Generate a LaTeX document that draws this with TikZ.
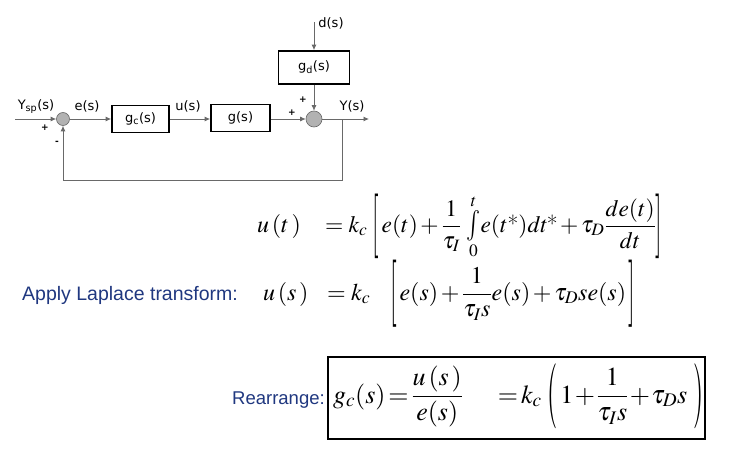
\documentclass[tikz,border=0pt]{standalone}
\usepackage{amsmath}
\usepackage{mathptmx}
\usepackage[no-math]{fontspec}
\setsansfont{Liberation Sans}
\newfontfamily\diagfont{DejaVu Sans}
\usetikzlibrary{arrows.meta}
\definecolor{lblue}{RGB}{32,56,128}
\definecolor{lgray}{RGB}{105,105,105}
\newcommand{\tallint}{\mathop{\vcenter{\hbox{\scalebox{1}[1.3]{$\int$}}}}\limits}
\newcommand{\tdel}[2]{\vcenter{\hbox{\scalebox{1}[#1]{$#2$}}}}
\newcommand{\bu}[1]{u\mkern2mu\mathbf{(}#1\mkern2mu\mathbf{)}}
\medmuskip=2mu plus 1mu minus 2mu
\begin{document}
\begin{tikzpicture}[x=1pt,y=-1pt,
  blk/.style={draw=black, line width=1.8pt, inner sep=0pt, font=\diagfont\fontsize{13}{15}\selectfont},
  sumc/.style={circle, draw=lgray, fill=gray!60, line width=0.6pt, inner sep=0pt},
  conn/.style={draw=lgray, line width=0.8pt, -{Latex[length=5.5pt,width=5pt]}},
  lbl/.style={font=\diagfont\fontsize{13}{15}\selectfont, inner sep=0pt},
  sgn/.style={font=\diagfont\fontsize{9}{10}\selectfont\bfseries, inner sep=0pt},
  eq/.style={anchor=base west, inner sep=0pt, font=\fontsize{24}{28}\selectfont},
  eqb/.style={anchor=base west, inner sep=0pt, font=\fontsize{26}{30}\selectfont},
  bluet/.style={anchor=base west, inner sep=0pt, text=lblue}]
\useasboundingbox (0,0) rectangle (732,458);
\fill[white] (0,0) rectangle (732,458);
% block diagram
\coordinate (in) at (15,119);
\node[sumc, minimum size=13pt] (s1) at (63,119) {};
\node[blk, minimum width=57pt, minimum height=27pt] (gc) at (140.5,119) {g\textsubscript{c}(s)};
\node[blk, minimum width=59pt, minimum height=27pt] (g) at (240.5,118) {g(s)};
\node[sumc, minimum size=16pt] (s2) at (314,119) {};
\node[blk, minimum width=71pt, minimum height=33pt] (gd) at (314,67.5) {g\textsubscript{d}(s)};
\coordinate (dtop) at (314,22);
\coordinate (out) at (369,119);
\coordinate (br) at (342,119);
\coordinate (fb) at (63,180);
\draw[conn] (in) -- (s1);
\draw[conn] (s1) -- (gc);
\draw[conn] (gc.east) -- (gc.east -| g.west);
\draw[conn] (g.east |- s2) -- (s2);
\draw[conn] (dtop) -- (gd);
\draw[conn] (gd) -- (s2);
\draw[conn] (s2) -- (out);
\draw[draw=lgray, line width=0.8pt] (br) |- (fb);
\draw[conn] (fb) -- (s1);
\node[lbl] (ysp) at (36,107) {Y\textsubscript{sp}(s)};
\node[lbl] (es) at (87,106) {e(s)};
\node[lbl] (us1) at (188,106) {u(s)};
\node[lbl] (ys) at (352,106) {Y(s)};
\node[lbl] (ds) at (331,23) {d(s)};
\node[sgn] (p1) at (45,128) {+};
\node[sgn] (m1) at (57,143) {-};
\node[sgn] (p2) at (292,113) {+};
\node[sgn] (p3) at (303,100) {+};
% equation 1
\node[eq] (ut) at (257,232) {$\bu{t}$};
\node[eq, font=\fontsize{23.5}{28}\selectfont] (eq1) at (325,232) {$\displaystyle {=}\;k_c\;\mathopen{\tdel{2.75}{[}}\,e(t)+\frac{1}{\tau_I}\,\tallint_0^t\! e(t\text{*})dt\mkern-1mu\text{*}+\tau_D\frac{de(t)}{dt}\mathclose{\tdel{2.75}{]}}$};
% equation 2
\node[bluet, font=\sffamily\fontsize{19.5}{22}\selectfont] (lap) at (22,300) {Apply Laplace transform:};
\node[eq] (us) at (263,300) {$\bu{s}$};
\node[eq] (eq2) at (327,300) {$\displaystyle {=}\;k_c\hspace{20pt}\mathopen{\tdel{2.8}{[}}\,e(s)+\frac{1}{\tau_I s}e(s)+\tau_D s e(s)\,\mathclose{\tdel{2.8}{]}}$};
% equation 3
\node[bluet, font=\sffamily\fontsize{18.5}{22}\selectfont] (rea) at (232,404) {Rearrange:};
\node[draw=black, line width=1.6pt, minimum width=377pt, minimum height=82pt, inner sep=0pt] (box) at (516.5,398) {};
\node[eqb] (eq3) at (333,403) {$\medmuskip=1mu\displaystyle g_c(s)\,{=}\,\frac{\bu{s}}{e(s)}\hspace{35pt}{=}\,k_c\;\mathopen{\tdel{2.5}{(}}\,1+\frac{1}{\tau_I s}+\tau_D s\;\mathclose{\tdel{2.5}{)}}$};
\end{tikzpicture}
\end{document}
